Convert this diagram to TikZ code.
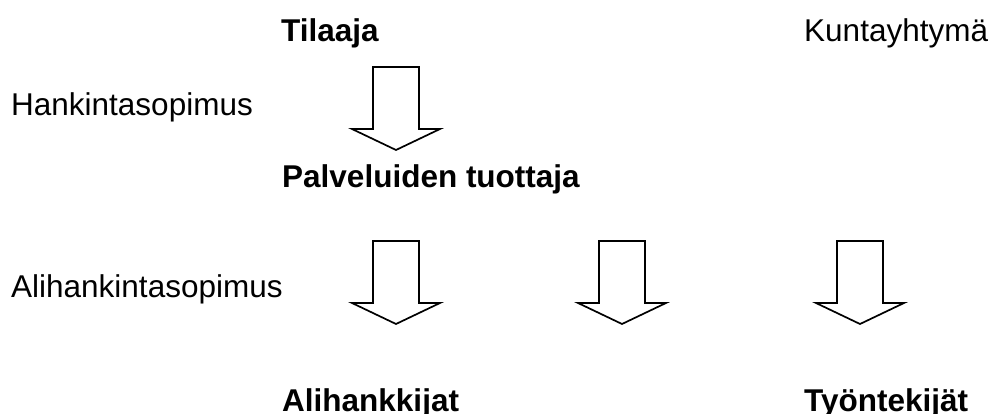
\documentclass[tikz,border=0pt]{standalone}
\usepackage{fontspec}
\setmainfont{Liberation Sans}
\begin{document}
\begin{tikzpicture}[x=1pt,y=-1pt,
  lbl/.style={anchor=base west,inner sep=0pt,font=\fontsize{31.5}{37}\selectfont},
  blbl/.style={lbl,font=\fontsize{31.5}{37}\selectfont\bfseries},
  downarrow/.pic={\draw[line width=1.7pt,line join=miter,fill=white]
     (-23,0) -- (-23,62) -- (-44,62) -- (0,83) -- (44,62) -- (23,62) -- (23,0) -- cycle;}]
\useasboundingbox[fill=white] (0,0) rectangle (990,414);
\node[blbl] (tilaaja) at (281,42) {Tilaaja};
\node[lbl] (kunta) at (804,42) {Kuntayhtymä};
\node[lbl] (hank) at (11,116) {Hankintasopimus};
\node[blbl] (palv) at (282,188) {Palveluiden tuottaja};
\node[lbl] (aliso) at (11,297) {Alihankintasopimus};
\node[blbl] (alih) at (282,411) {Alihankkijat};
\node[blbl] (tyon) at (804,411) {Työntekijät};
\pic (a1) at (396,67) {downarrow};
\pic (a2) at (396,241) {downarrow};
\pic (a3) at (622,241) {downarrow};
\pic (a4) at (860,241) {downarrow};
\end{tikzpicture}
\end{document}
